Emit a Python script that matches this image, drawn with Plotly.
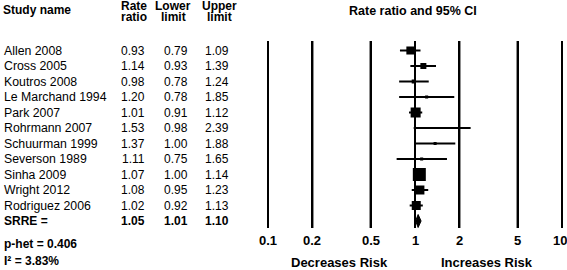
import math
import plotly.graph_objects as go

# ---------------- data ----------------
studies = ["Allen 2008", "Cross 2005", "Koutros 2008", "Le Marchand 1994", "Park 2007",
           "Rohrmann 2007", "Schuurman 1999", "Severson 1989", "Sinha 2009",
           "Wright 2012", "Rodriguez 2006"]
rate_ratio = [0.93, 1.14, 0.98, 1.20, 1.01, 1.53, 1.37, 1.11, 1.07, 1.08, 1.02]
lower_limit = [0.79, 0.93, 0.78, 0.78, 0.91, 0.98, 1.00, 0.75, 1.00, 0.95, 0.92]
upper_limit = [1.09, 1.39, 1.24, 1.85, 1.12, 2.39, 1.88, 1.65, 1.14, 1.23, 1.13]
weights = [11.1, 6.2, 2.8, 1.6, 17.3, 0.7, 1.6, 1.6, 29.2, 14.0, 14.0]  # relative weight (%)
summary_label = "SRRE ="
summary_rr, summary_lo, summary_hi = 1.05, 1.01, 1.10
tick_vals = [0.1, 0.2, 0.5, 1, 2, 5, 10]
tick_text = ["0.1", "0.2", "0.5", "1", "2", "5", "10"]
p_het = "0.406"
i_squared = "3.83%"

# ---------------- layout constants ----------------
W, H = 567, 270
FONT = "Liberation Sans, Arial, Helvetica, sans-serif"
FS = 12
n = len(studies)
rows = list(range(n))
summary_row = n

# log axis: 147 px per decade, 0.1 at x=268, 10 at x=562
px_per_dec = 147
pad_left_dec = 0.02
pad_right_dec = (W - 562) / px_per_dec
x_left_px = 268 - px_per_dec * pad_left_dec
x_right_px = W
y_top_px, y_bot_px = 41, 228
row0_px, row_step = 50.5, 15.5
y_range = [(y_bot_px - row0_px) / row_step, (y_top_px - row0_px) / row_step]


def px(x):
    return x / W


def py(y):
    return 1 - y / H


fig = go.Figure()

# vertical reference lines (trace spanning the full y range)
vx, vy = [], []
for v in tick_vals:
    vx += [v, v, None]
    vy += [y_range[0], y_range[1], None]
fig.add_trace(go.Scatter(x=vx, y=vy, mode="lines", line=dict(color="black", width=2),
                         showlegend=False, hoverinfo="skip"))
for v in tick_vals:
    fig.add_shape(type="line", xref="x", yref="y domain", x0=v, x1=v, y0=0, y1=1,
                  line=dict(color="black", width=2), layer="above")

# study estimates with CI
max_w = max(weights)
sizes = [13 * math.sqrt(w / max_w) for w in weights]
fig.add_trace(go.Scatter(
    x=rate_ratio, y=rows, mode="markers",
    marker=dict(symbol="square", size=sizes, color="black", opacity=1, line=dict(width=0)),
    error_x=dict(type="data", symmetric=False,
                 array=[u - r for u, r in zip(upper_limit, rate_ratio)],
                 arrayminus=[r - l for r, l in zip(rate_ratio, lower_limit)],
                 color="black", thickness=2, width=0),
    showlegend=False, hoverinfo="skip"))

# summary diamond
fig.add_trace(go.Scatter(
    x=[summary_lo, summary_rr, summary_hi, summary_rr, summary_lo],
    y=[summary_row, summary_row - 0.42, summary_row, summary_row + 0.42, summary_row],
    mode="lines", fill="toself", fillcolor="black",
    line=dict(color="black", width=1), showlegend=False, hoverinfo="skip"))

ann = []


def add_text(x, y, text, yref="paper", bold=False, anchor="left", size=FS, xref="paper", xshift=0):
    t = f"<b>{text}</b>" if bold else text
    ann.append(dict(x=x, y=y, xref=xref, yref=yref, text=t, showarrow=False,
                    xanchor=anchor, yanchor="middle", borderpad=0, xshift=xshift,
                    font=dict(family=FONT, size=size, color="black")))


# header
add_text(px(2), py(10), "Study name", bold=True)
add_text(px(134), py(6), "Rate", bold=True, anchor="center")
add_text(px(134), py(17.5), "ratio", bold=True, anchor="center")
add_text(px(173), py(6), "Lower", bold=True, anchor="center")
add_text(px(173), py(17.5), "limit", bold=True, anchor="center")
add_text(px(219), py(6), "Upper", bold=True, anchor="center")
add_text(px(219), py(17.5), "limit", bold=True, anchor="center")
add_text(px(413), py(11), "Rate ratio and 95% CI", bold=True, anchor="center", size=12.5)

# rows
for i, s in enumerate(studies):
    add_text(px(3), i, s, yref="y", size=12.3)
    add_text(px(133), i, f"{rate_ratio[i]:.2f}", yref="y", anchor="center")
    add_text(px(176), i, f"{lower_limit[i]:.2f}", yref="y", anchor="center")
    add_text(px(217), i, f"{upper_limit[i]:.2f}", yref="y", anchor="center")

add_text(px(3), summary_row, summary_label, yref="y", bold=True)
add_text(px(133), summary_row, f"{summary_rr:.2f}", yref="y", bold=True, anchor="center")
add_text(px(176), summary_row, f"{summary_lo:.2f}", yref="y", bold=True, anchor="center")
add_text(px(217), summary_row, f"{summary_hi:.2f}", yref="y", bold=True, anchor="center")

add_text(px(3), py(244), f"p-het = {p_het}", bold=True)
add_text(px(3), py(261), f"I² = {i_squared}", bold=True)

add_text(px(339), py(262), "Decreases Risk", bold=True, anchor="center", size=13)
add_text(px(487), py(262), "Increases Risk", bold=True, anchor="center", size=13)

# tick labels placed on the log axis (annotations on log axes take log10 values)
for j, (v, t) in enumerate(zip(tick_vals, tick_text)):
    last = j == len(tick_vals) - 1
    add_text(math.log10(v), py(240), t, bold=True, size=13, xref="x",
             anchor="center", xshift=-2 if last else 0)

fig.update_layout(
    width=W, height=H, margin=dict(l=0, r=0, t=0, b=0, autoexpand=False),
    paper_bgcolor="white", plot_bgcolor="white",
    annotations=ann,
    xaxis=dict(type="log",
               range=[math.log10(tick_vals[0]) - pad_left_dec,
                      math.log10(tick_vals[-1]) + pad_right_dec],
               domain=[px(x_left_px), px(x_right_px)],
               tickvals=tick_vals, showticklabels=False, ticks="",
               showgrid=True, gridcolor="black", gridwidth=2,
               zeroline=False, showline=False, automargin=False),
    yaxis=dict(range=y_range, domain=[py(y_bot_px), py(y_top_px)],
               visible=False, showgrid=False, zeroline=False, automargin=False),
)

fig.write_html(
    "out.html", config={"displayModeBar": False},
    post_script=("document.documentElement.style.overflow='hidden';"
                 "document.body.style.overflow='hidden';"
                 "document.body.style.margin='0';"
                 "document.body.style.padding='0';"))
